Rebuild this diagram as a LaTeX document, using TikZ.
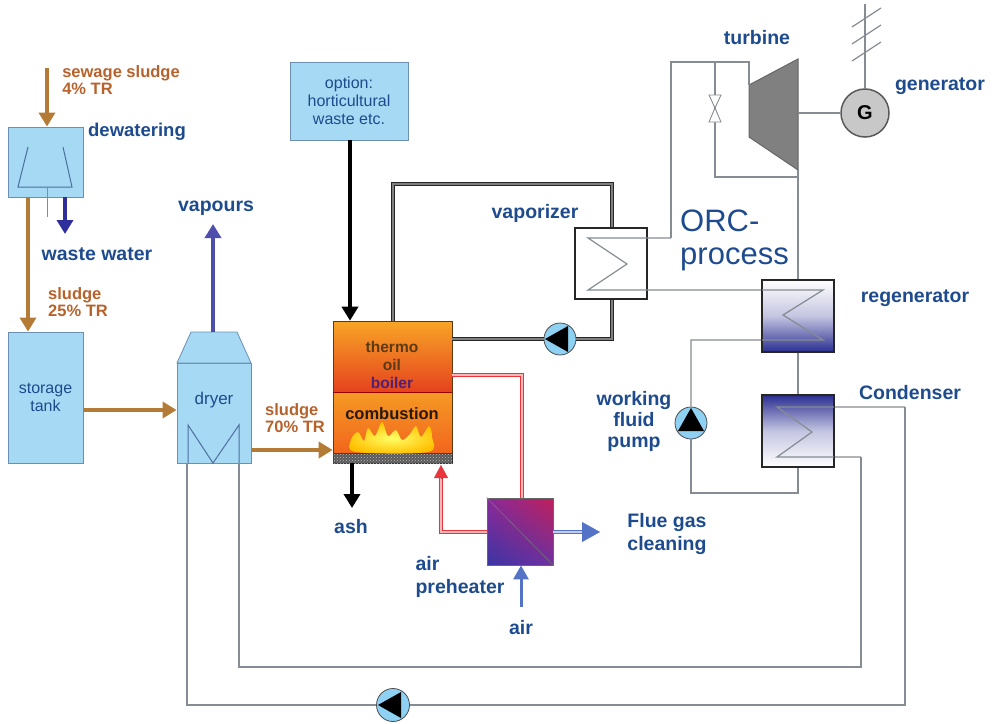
\documentclass[tikz,border=0pt]{standalone}
\usepackage{fontspec}
\setmainfont{Liberation Sans}
\usetikzlibrary{arrows.meta,calc,shadings,patterns}

\definecolor{lblue}{HTML}{1E4B8E}
\definecolor{lbrown}{HTML}{B8622B}
\definecolor{sbrown}{HTML}{B47B36}
\definecolor{boxblue}{HTML}{A6D9F3}
\definecolor{boxedge}{HTML}{6C8FB2}
\definecolor{pipegray}{HTML}{858C93}
\definecolor{navy}{HTML}{2B2E91}
\definecolor{deepblue}{HTML}{2F2F9C}
\definecolor{airblue}{HTML}{5573C6}
\definecolor{fluered}{HTML}{E8343A}
\definecolor{pumpfill}{HTML}{8FD1F2}
\definecolor{symblue}{HTML}{4D6FA0}
\definecolor{boiltop}{HTML}{F8A526}
\definecolor{boilbot}{HTML}{E5421E}
\definecolor{combtop}{HTML}{F59A24}
\definecolor{combbot}{HTML}{F2651D}
\definecolor{oiltext}{HTML}{5B3A14}
\definecolor{boilertext}{HTML}{512070}
\definecolor{aphbl}{HTML}{3A35A5}
\definecolor{aphtl}{HTML}{8A2A9A}
\definecolor{aphtr}{HTML}{C0205A}
\definecolor{aphbr}{HTML}{6E30A2}
\definecolor{turbfill}{HTML}{808080}
\definecolor{genfill}{HTML}{C8C8C8}

\tikzset{
  lbl/.style={font=\fontsize{19.5}{21}\selectfont\bfseries, text=lblue, inner sep=0pt},
  blbl/.style={font=\fontsize{16.5}{17}\selectfont\bfseries, text=lbrown, inner sep=0pt, align=left},
  unit/.style={draw=boxedge, fill=boxblue, line width=0.8pt, rectangle, inner sep=0pt},
  hx/.style={draw=black!85, line width=1.1pt, rectangle, inner sep=0pt},
  pipe/.style={draw=pipegray, line width=1.2pt},
  oilpipe/.style={draw=black!85, line width=1.4pt, double=black!50, double distance=1.5pt},
  fluepipe/.style={draw=fluered, line width=1.1pt, double=fluered!35, double distance=2.2pt},
  sludgeflow/.style={draw=sbrown, line width=3.5pt, -{Triangle[length=14pt,width=16pt]}},
  waterflow/.style={draw=deepblue, line width=3.5pt, -{Triangle[length=14pt,width=16pt]}},
  solidflow/.style={draw=black, line width=3.5pt, -{Triangle[length=14pt,width=16pt]}},
  airflow/.style={draw=airblue, line width=3pt, -{Triangle[length=14pt,width=15pt]}},
  pumpc/.style={circle, draw=black!70, fill=pumpfill, minimum size=32pt, inner sep=0pt, line width=0.8pt},
}

\begin{document}
\begin{tikzpicture}[x=1pt,y=-1pt]
\useasboundingbox (0,0) rectangle (993,723);

% ---------------- sludge line ----------------
\node[unit, minimum width=75pt, minimum height=70pt] (dew) at (45.5,162) {};
\draw[symblue, line width=1pt] (28,147) -- (18,187) -- (72,187) -- (63,147);
\draw[pipegray, line width=1pt] (47,187) -- (47,217);
\coordinate (sewin) at (47,68);
\draw[sludgeflow] (sewin) -- (dew.north -| sewin);
\node[blbl] (t-sew) at (121,80) {sewage sludge\\4\% TR};
\node[lbl, font=\fontsize{18.5}{20}\selectfont\bfseries] (t-dew) at (137,132) {dewatering};
\coordinate (wwout) at (65,234);
\draw[waterflow] (dew.south -| wwout) -- (wwout);
\node[lbl] (t-ww) at (97,254) {waste water};

\node[unit, minimum width=75pt, minimum height=131pt, align=center,
      font=\fontsize{16}{18}\selectfont, text=lblue] (tank) at (45.5,397.5) {storage\\tank};
\draw[sludgeflow] (dew.south -| 28,0) -- (tank.north -| 28,0);
\node[blbl] (t-s25) at (78,302) {sludge\\25\% TR};

% dryer
\node[unit, minimum width=74pt, minimum height=100pt] (dryer) at (214,413) {};
\filldraw[fill=boxblue, draw=boxedge, line width=0.8pt] (177,363) -- (191,332) -- (237,332) -- (251,363) -- cycle;
\coordinate (dryertop) at (213,332);
\node[font=\fontsize{17}{18}\selectfont, text=lblue, inner sep=0pt] (t-dryer) at (214,400) {dryer};
\draw[symblue, line width=1pt] (188,463) -- (188,425) -- (213,463) -- (239,425) -- (239,463);
\draw[sludgeflow] (tank.east |- 0,410) -- (dryer.west |- 0,410);
\coordinate (vapout) at (213,224);
\draw[waterflow, draw=deepblue!85!white] (dryertop) -- (vapout);
\node[lbl] (t-vap) at (216,208) {vapours};

% ---------------- boiler ----------------
\node[unit, minimum width=118pt, minimum height=78pt, align=center,
      font=\fontsize{16}{18}\selectfont, text=lblue] (opt) at (349,101) {option:\\horticultural\\waste etc.};
\node[draw=oiltext, line width=0.6pt, top color=boiltop, bottom color=boilbot,
      minimum width=119pt, minimum height=71pt, inner sep=0pt] (boil) at (392.5,356.5) {};
\node[draw=oiltext, line width=0.6pt, top color=combtop, bottom color=combbot,
      minimum width=119pt, minimum height=61pt, inner sep=0pt] (comb) at (392.5,422.5) {};
\draw[red!60!black, line width=1.6pt] (boil.south west) -- (boil.south east);
\node[draw=black!80, fill=black!65, postaction={pattern=crosshatch dots, pattern color=black!25},
      minimum width=119pt, minimum height=10pt, inner sep=0pt] (grate) at (392.5,458) {};
% flames
\shade[inner color=yellow!60!white, outer color=orange!50!yellow]
  plot[smooth cycle, tension=0.55] coordinates {(356,452) (351,440) (358,432) (364,441) (368,428)
  (375,436) (382,422) (388,436) (396,430) (402,440) (410,434) (416,426) (421,437) (429,426)
  (432,437) (428,452)};
\node[font=\fontsize{15.5}{18.5}\selectfont\bfseries, text=oiltext, inner sep=0pt, align=center] (t-thermo) at (392,356) {thermo\\oil};
\node[font=\fontsize{15.5}{18}\selectfont\bfseries, text=boilertext, inner sep=0pt] (t-boiler) at (392,383) {boiler};
\node[font=\fontsize{16.5}{18}\selectfont\bfseries, text=black!80!brown, inner sep=0pt] (t-comb) at (392,414) {combustion};
\draw[solidflow] (opt.south -| 350,0) -- (boil.north -| 350,0);
\coordinate (ashout) at (352,508);
\draw[solidflow] (grate.south -| ashout) -- (ashout);
\node[lbl] (t-ash) at (351,527) {ash};
\draw[sludgeflow] (dryer.east |- 0,450) -- (comb.west |- 0,450);
\node[blbl] (t-s70) at (295,418) {sludge\\70\% TR};

% air preheater and flue gas
\node[draw=black!60, line width=0.8pt, shading=bilinear interpolation,
      lower left=aphbl, upper left=aphtl, upper right=aphtr, lower right=aphbr,
      minimum width=66pt, minimum height=67pt, inner sep=0pt] (aph) at (520,531.5) {};
\draw[black!55, line width=0.6pt] (aph.north west) -- (aph.south east);
\draw[fluepipe] (boil.east |- 0,375) -| (aph.north -| 522,0);
\coordinate (airin) at (441,465);
\coordinate (airshaft) at (441,478);
\draw[fluepipe] (aph.west |- 0,532) -| (airshaft);
\draw[draw=fluered, line width=0.2pt, -{Triangle[length=13pt,width=14pt]}] (airshaft) -- (airin);
\coordinate (fgbase) at (582,532);
\coordinate (fgtip) at (600,532);
\draw[draw=airblue, line width=1.2pt, double=airblue!35, double distance=2.5pt] (aph.east |- fgbase) -- (fgbase);
\draw[draw=airblue, line width=0.2pt, -{Triangle[length=18pt,width=20pt]}] (fgbase) -- (fgtip);
\node[lbl, align=left, font=\fontsize{19.5}{23}\selectfont\bfseries] (t-flue) at (667,533.5) {Flue gas\\cleaning};
\coordinate (airsrc) at (521,607);
\draw[airflow] (airsrc) -- (aph.south -| airsrc);
\node[lbl] (t-air) at (521,628) {air};
\node[lbl, align=left, font=\fontsize{19.5}{23}\selectfont\bfseries] (t-aph) at (460,576.5) {air\\preheater};

% thermal oil circuit
\node[hx, fill=white, minimum width=72pt, minimum height=71pt] (vap) at (611,263.5) {};
\draw[oilpipe] (boil.north -| 393,0) -- (393,184) -- (612,184) -- (vap.north -| 612,0);
\node[pumpc] (oilpump) at (560,339) {};
\fill[black] ($(oilpump)+(-15,0)$) -- ($(oilpump)+(8,-13)$) -- ($(oilpump)+(8,13)$) -- cycle;
\draw[oilpipe] (vap.south -| 612,0) |- (oilpump.east);
\draw[oilpipe] (oilpump.west) -- (boil.east |- oilpump);
\node[lbl] (t-vapz) at (535,213) {vaporizer};

% ---------------- ORC process ----------------
\node[hx, minimum width=72pt, minimum height=72pt, top color=white, bottom color=navy, middle color=navy!28] (regen) at (798,316) {};
\node[hx, minimum width=72pt, minimum height=72pt, top color=navy, bottom color=white, middle color=navy!28] (cond) at (798,431) {};
\node[pumpc] (wfpump) at (691,423) {};
\fill[black] ($(wfpump)+(0,-15)$) -- ($(wfpump)+(13,8)$) -- ($(wfpump)+(-13,8)$) -- cycle;

% turbine, bypass valve, generator
\coordinate (tin) at (749,85);
\coordinate (tout) at (798,170);
\filldraw[fill=turbfill, draw=black!60, line width=1pt] (tin) -- (798,59) -- (tout) -- (749,137) -- cycle;
\node[lbl] (t-turb) at (757,38) {turbine};
\node[circle, draw=black!65, fill=genfill, line width=1.5pt, minimum size=48pt, inner sep=0pt,
      font=\fontsize{20}{20}\selectfont\bfseries] (gen) at (865,113) {G};
\node[lbl] (t-gen) at (940,86) {generator};
\draw[pipe] (798,113) -- (gen.west);
\coordinate (grid) at (865,4);
\draw[pipe] (gen.north) -- (grid);
\draw[pipe] (852,27) -- (881,8) (852,44) -- (881,25) (852,61) -- (881,42);

% vaporizer coil, regenerator coil and live vapour line
\draw[pipe] (671,238) -- (588,238) -- (627,264) -- (588,290) -- (823,290) -- (783,315) -- (823,340) -- (691,340) -- (wfpump.north);
\draw[pipe] (671,238) -- (671,62) -- (749,62) -- (tin);
\draw[pipe] (715,62) -- (715,177) -- (798,177);
\filldraw[fill=white, draw=pipegray, line width=0.9pt] (709,95) -- (721,95) -- (715,108) -- cycle;
\filldraw[fill=white, draw=pipegray, line width=0.9pt] (709,122) -- (721,122) -- (715,108) -- cycle;
\draw[pipe] (tout) -- (regen.north -| tout);
\draw[pipe] (regen.south) -- (cond.north);
\draw[pipe] (wfpump.south) -- (691,493) -- (798,493) -- (cond.south);
\draw[hx, fill=none] (regen.north west) rectangle (regen.south east);

% condenser coil and cooling / drying water loop
\draw[pipe] (905,407) -- (777,407) -- (812,432) -- (777,457) -- (861,457);
\draw[hx, fill=none] (cond.north west) rectangle (cond.south east);
\node[pumpc, minimum size=33pt] (cwpump) at (393,705) {};
\fill[black] ($(cwpump)+(-15,0)$) -- ($(cwpump)+(8,-13)$) -- ($(cwpump)+(8,13)$) -- cycle;
\draw[pipe] (905,407) -- (905,705) -- (cwpump.east);
\draw[pipe] (cwpump.west) -- (187,705) -- (dryer.south -| 187,0);
\draw[pipe] (861,457) -- (861,667) -- (239,667) -- (dryer.south -| 239,0);

\node[font=\fontsize{31}{33}\selectfont, text=lblue, inner sep=0pt, align=left] (t-orc) at (734.5,240) {ORC-\\process};
\node[lbl] (t-regen) at (915,298) {regenerator};
\node[lbl] (t-cond) at (910,393) {Condenser};
\node[lbl, align=center] (t-wfp) at (634,421) {working\\fluid\\pump};
\end{tikzpicture}
\end{document}
